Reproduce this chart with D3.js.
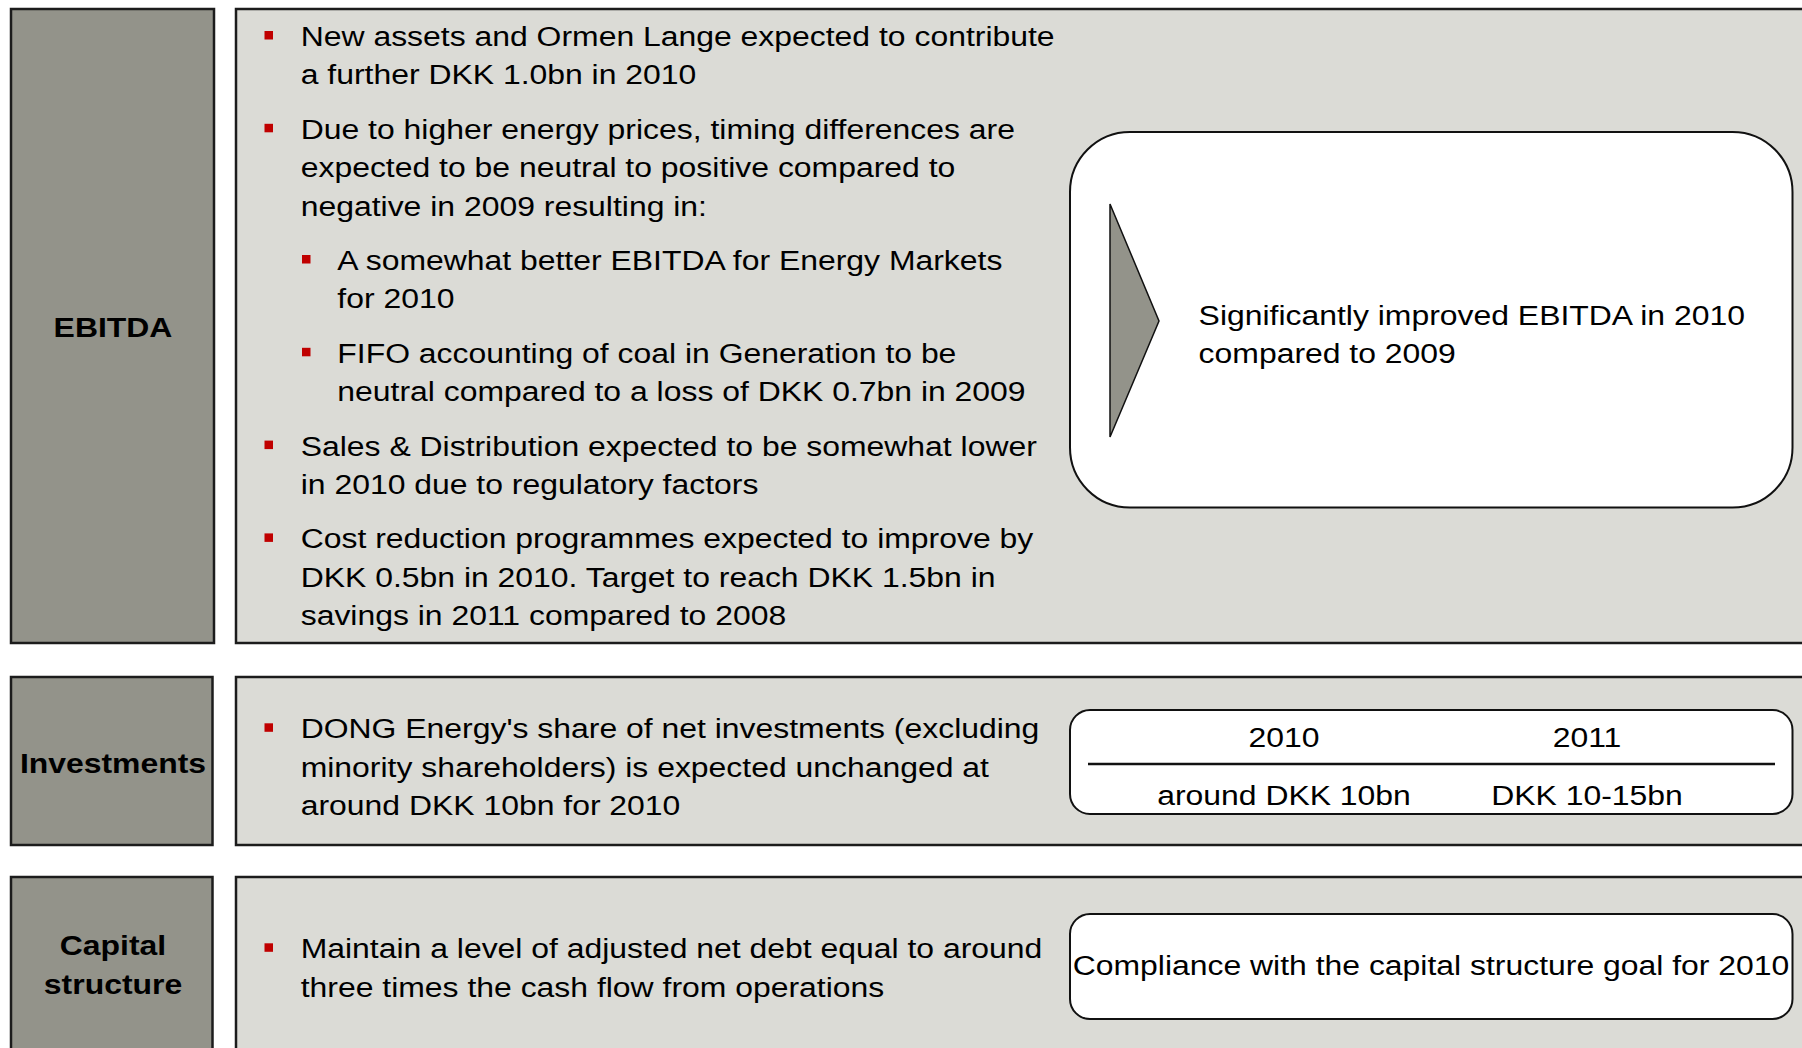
<!DOCTYPE html>
<meta charset="utf-8">
<style>
body { margin: 0; background: #fff; }
text { font-family: "Liberation Sans", Arial, sans-serif; font-size: 28px; fill: #000; }
.label { font-weight: bold; }
.tab { fill: #93938a; stroke: #1c1c1c; stroke-width: 2.5px; }
.panel { fill: #dbdbd6; stroke: #1c1c1c; stroke-width: 2.5px; }
.callout { fill: #fff; stroke: #111; stroke-width: 2px; }
.arrow { fill: #93938a; stroke: #111; stroke-width: 1.5px; }
.rule { stroke: #111; stroke-width: 2.5px; }
.bullet { fill: #c00000; }
</style>
<body>
<script src="https://d3js.org/d3.v7.min.js"></script>
<script>

// section labels (one per row)
var sections = ["EBITDA", "Investments", "Capital structure"];

// bullet paragraphs, lines broken as on the slide; level 1 = sub bullet
var ebitdaPoints = [
  {level: 0, lines: ["New assets and Ormen Lange expected to contribute", "a further DKK 1.0bn in 2010"]},
  {level: 0, lines: ["Due to higher energy prices, timing differences are", "expected to be neutral to positive compared to", "negative in 2009 resulting in:"]},
  {level: 1, lines: ["A somewhat better EBITDA for Energy Markets", "for 2010"]},
  {level: 1, lines: ["FIFO accounting of coal in Generation to be", "neutral compared to a loss of DKK 0.7bn in 2009"]},
  {level: 0, lines: ["Sales & Distribution expected to be somewhat lower", "in 2010 due to regulatory factors"]},
  {level: 0, lines: ["Cost reduction programmes expected to improve by", "DKK 0.5bn in 2010. Target to reach DKK 1.5bn in", "savings in 2011 compared to 2008"]}
];
var investPoints = [
  {level: 0, lines: ["DONG Energy's share of net investments (excluding", "minority shareholders) is expected unchanged at", "around DKK 10bn for 2010"]}
];
var capitalPoints = [
  {level: 0, lines: ["Maintain a level of adjusted net debt equal to around", "three times the cash flow from operations"]}
];

// outlook boxes
var ebitdaOutlook = ["Significantly improved EBITDA in 2010", "compared to 2009"];
var investYears = ["2010", "2011"];
var investAmounts = ["around DKK 10bn", "DKK 10-15bn"];
var capitalOutlook = ["Compliance with the capital structure goal for 2010"];

var width = 1802, height = 1048;
var sx = 1.14;          // the slide is stretched sideways
var lineStep = 38.4, paraGap = 16;

var rows = [
  {label: sections[0], top: 9,   bottom: 643,  labelY: 336.5, points: ebitdaPoints,  first: 46},
  {label: sections[1], top: 677, bottom: 845,  labelY: 772.5, points: investPoints,  first: 738.3},
  {label: sections[2], top: 877, bottom: 1056, labelY: 974.5, points: capitalPoints, first: 958.3}
];

var svg = d3.select("body").append("svg")
    .attr("width", width)
    .attr("height", height);

svg.append("rect").attr("width", width).attr("height", height).attr("fill", "#fff");

function stretched(sel, x, y) {
  return sel.attr("transform", "translate(" + x + "," + y + ") scale(" + sx + ",1)");
}

// grey panels
svg.selectAll("rect.panel")
  .data(rows)
  .join("rect")
    .attr("class", "panel")
    .attr("x", 236)
    .attr("y", function(d) { return d.top; })
    .attr("width", 1620)
    .attr("height", function(d) { return d.bottom - d.top; });

// label tabs
svg.selectAll("rect.tab")
  .data(rows)
  .join("rect")
    .attr("class", "tab")
    .attr("x", 11)
    .attr("y", function(d) { return d.top; })
    .attr("width", function(d, i) { return i == 0 ? 203 : 201.5; })
    .attr("height", function(d) { return d.bottom - d.top; });

rows.forEach(function(r) {
  var words = r.label.split(" ");
  words.forEach(function(w, i) {
    var y = r.labelY + (i - (words.length - 1) / 2) * lineStep;
    stretched(svg.append("text").attr("class", "label").attr("text-anchor", "middle").text(w), 113, y);
  });

  // bullets
  var lineNo = 0;
  r.points.forEach(function(p, pi) {
    var bx = p.level ? 302 : 264.5,
        tx = p.level ? 337.3 : 300.7;
    p.lines.forEach(function(line, li) {
      var y = r.first + lineNo * lineStep + pi * paraGap;
      if (li == 0) {
        svg.append("rect").attr("class", "bullet")
          .attr("x", bx).attr("y", y - 15).attr("width", 8.5).attr("height", 8.5);
      }
      stretched(svg.append("text").text(line), tx, y);
      lineNo++;
    });
  });
});

// EBITDA outlook
svg.append("rect").attr("class", "callout")
  .attr("x", 1070).attr("y", 132).attr("width", 722.5).attr("height", 375.5)
  .attr("rx", 60).attr("ry", 60);

svg.append("path").attr("class", "arrow")
  .attr("d", d3.line()([[1110, 204], [1159, 321], [1110, 437]]) + "Z");

ebitdaOutlook.forEach(function(line, i) {
  stretched(svg.append("text").text(line), 1198.6, 324.5 + i * lineStep);
});

// investments outlook
svg.append("rect").attr("class", "callout")
  .attr("x", 1070).attr("y", 710).attr("width", 722.5).attr("height", 104)
  .attr("rx", 20).attr("ry", 20);

svg.append("line").attr("class", "rule")
  .attr("x1", 1088).attr("x2", 1775).attr("y1", 764).attr("y2", 764);

var col = d3.scalePoint().domain(investYears).range([1284, 1587]);

investYears.forEach(function(yr, i) {
  stretched(svg.append("text").attr("text-anchor", "middle").text(yr), col(yr), 746.5);
  stretched(svg.append("text").attr("text-anchor", "middle").text(investAmounts[i]), col(yr), 804.5);
});

// capital structure outlook
svg.append("rect").attr("class", "callout")
  .attr("x", 1070).attr("y", 914).attr("width", 722.5).attr("height", 105)
  .attr("rx", 20).attr("ry", 20);

capitalOutlook.forEach(function(line) {
  stretched(svg.append("text").attr("text-anchor", "middle").text(line), 1431, 974.5);
});

</script>
</body>
